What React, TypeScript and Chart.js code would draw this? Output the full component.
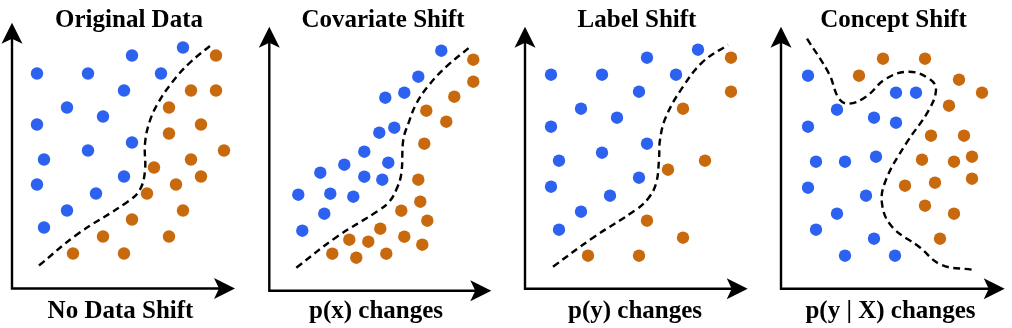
import React, { useEffect, useRef } from "react";
import { Chart, registerables } from "chart.js";

Chart.register(...registerables);

// ---------- text ----------
const PANEL_TITLES = ["Original Data", "Covariate Shift", "Label Shift", "Concept Shift"];
const PANEL_CAPTIONS = ["No Data Shift", "p(x) changes", "p(y) changes", "p(y | X) changes"];

// ---------- data (units: arbitrary feature space, origin at axes corner) ----------
// Panel 1: Original data
const BLUE1_X = [17.1, 12.0, 2.5, 7.6, 14.9, 11.2, 5.5, 9.1, 2.5, 12.0, 7.6, 3.2, 11.2, 2.5, 8.4, 5.5, 3.2];
const BLUE1_Y = [24.1, 23.3, 21.5, 21.5, 21.5, 19.8, 18.1, 17.2, 16.4, 14.6, 13.8, 12.9, 11.2, 10.4, 9.5, 7.8, 6.1];
const ORANGE1_X = [20.4, 17.9, 20.4, 15.7, 18.9, 15.7, 21.2, 17.9, 14.2, 18.9, 16.4, 13.5, 17.1, 12.0, 9.1, 15.7, 6.1, 11.2];
const ORANGE1_Y = [23.3, 19.8, 19.8, 18.1, 16.4, 15.5, 13.8, 12.9, 12.1, 11.2, 10.4, 9.5, 7.8, 6.9, 5.2, 5.2, 3.5, 3.5];
const CURVE1_X = [2.7, 6.5, 11.6, 12.8, 13.3, 13.3, 13.8, 14.7, 16.0, 17.7, 20.1];
const CURVE1_Y = [2.3, 5.4, 8.7, 9.9, 11.8, 14.5, 16.8, 18.7, 20.6, 22.5, 24.5];

// Panel 2: Covariate shift
const BLUE2_X = [17.2, 14.9, 13.5, 11.6, 12.5, 11.0, 9.5, 11.9, 7.5, 5.1, 9.5, 11.3, 2.9, 6.1, 8.4, 5.5, 3.3];
const BLUE2_Y = [24.0, 21.4, 19.8, 19.3, 16.3, 15.8, 13.9, 12.8, 12.6, 11.8, 11.4, 11.1, 9.6, 9.7, 9.4, 7.7, 6.0];
const ORANGE2_X = [20.4, 20.4, 18.5, 15.7, 17.7, 15.5, 14.9, 15.1, 13.2, 15.8, 11.1, 8.0, 9.9, 13.5, 15.3, 6.3, 8.7, 11.7];
const ORANGE2_Y = [23.1, 20.9, 19.4, 18.0, 16.9, 14.7, 11.1, 8.9, 8.0, 7.0, 6.2, 5.1, 4.9, 5.4, 4.6, 3.7, 3.3, 3.7];
const CURVE2_X = [2.7, 6.7, 10.9, 12.0, 12.7, 13.2, 13.4, 13.9, 14.7, 16.0, 17.7, 20.1];
const CURVE2_Y = [2.3, 5.35, 8.0, 8.9, 10.1, 11.7, 15.1, 16.7, 18.7, 20.6, 22.4, 24.4];

// Panel 3: Label shift
const BLUE3_X = [17.3, 12.2, 2.6, 7.7, 15.1, 11.4, 5.6, 9.2, 2.6, 12.2, 7.7, 3.4, 11.4, 2.6, 8.5, 5.6, 3.4];
const BLUE3_Y = [23.9, 23.1, 21.4, 21.4, 21.4, 19.7, 18.0, 17.1, 16.2, 14.5, 13.6, 12.8, 11.1, 10.2, 9.3, 7.7, 5.9];
const ORANGE3_X = [20.6, 20.6, 15.8, 18.0, 14.3, 12.2, 15.8, 6.3, 11.4];
const ORANGE3_Y = [23.1, 19.7, 18.0, 12.8, 11.9, 6.8, 5.1, 3.3, 3.3];
const CURVE3_X = [2.8, 6.8, 11.1, 12.3, 13.1, 13.4, 13.5, 14.1, 15.8, 17.8, 20.3];
const CURVE3_Y = [2.2, 5.1, 7.9, 9.0, 10.5, 12.9, 14.9, 17.2, 20.2, 22.7, 24.4];

// Panel 4: Concept shift
const BLUE4_X = [2.7, 11.5, 13.5, 5.6, 9.3, 11.5, 2.7, 3.5, 6.4, 9.5, 2.7, 8.5, 5.6, 3.5, 9.3, 6.4, 11.4];
const BLUE4_Y = [21.3, 19.6, 19.6, 17.9, 17.1, 16.6, 16.2, 12.7, 12.7, 13.2, 10.1, 9.3, 7.5, 5.9, 5.0, 3.3, 3.3];
const ORANGE4_X = [10.2, 14.4, 7.8, 17.8, 20.1, 16.8, 15.0, 18.3, 14.1, 17.3, 19.1, 12.4, 15.4, 19.1, 14.4, 17.3, 15.9];
const ORANGE4_Y = [23.0, 23.0, 21.3, 20.9, 19.6, 18.3, 15.3, 15.3, 12.9, 12.7, 13.2, 10.3, 10.6, 11.0, 8.3, 7.5, 5.0];
const CURVE4_X = [2.6, 4.8, 5.8, 6.8, 8.5, 10.5, 12.8, 14.8, 15.5, 14.8, 12.5, 10.5, 10.1, 11.1, 13.8, 16.0, 19.1];
const CURVE4_Y = [25.0, 21.5, 19.0, 18.5, 19.2, 21.0, 21.7, 21.0, 20.0, 17.9, 14.5, 10.9, 8.5, 6.2, 4.2, 2.4, 1.9];

const PANELS = [
  { bx: BLUE1_X, by: BLUE1_Y, ox: ORANGE1_X, oy: ORANGE1_Y, cx: CURVE1_X, cy: CURVE1_Y },
  { bx: BLUE2_X, by: BLUE2_Y, ox: ORANGE2_X, oy: ORANGE2_Y, cx: CURVE2_X, cy: CURVE2_Y },
  { bx: BLUE3_X, by: BLUE3_Y, ox: ORANGE3_X, oy: ORANGE3_Y, cx: CURVE3_X, cy: CURVE3_Y },
  { bx: BLUE4_X, by: BLUE4_Y, ox: ORANGE4_X, oy: ORANGE4_Y, cx: CURVE4_X, cy: CURVE4_Y },
];

// ---------- layout & style ----------
const CANVAS_W = 253;
const CANVAS_H = 328;
const UNIT_PX = 10; // pixels per data unit
const LAYOUT = [
  { left: 0, originX: 12, originY: 288.5, tipX: 235, tipY: 22.7, titleX: 129, captionX: 120.5 },
  { left: 253, originX: 269.3, originY: 290.7, tipX: 491.3, tipY: 26.7, titleX: 383, captionX: 376 },
  { left: 506, originX: 525, originY: 288.7, tipX: 747.7, tipY: 26.7, titleX: 637, captionX: 635 },
  { left: 759, originX: 781, originY: 288.7, tipX: 1004.7, tipY: 26.7, titleX: 893.5, captionX: 890.5 },
];
const TITLE_BASELINE = 27;
const CAPTION_BASELINE = 317.5;
const FONT = 'bold 25px "Liberation Serif", "Times New Roman", serif';
const BLUE = "#2D62F0";
const ORANGE = "#C9690D";

function pts(xs: number[], ys: number[]) {
  return xs.map((x, i) => ({ x, y: ys[i] }));
}

function head(ctx: CanvasRenderingContext2D, x: number, y: number, dir: "up" | "right") {
  const len = 21, half = 10.5, notch = 16;
  ctx.beginPath();
  if (dir === "up") {
    ctx.moveTo(x, y);
    ctx.lineTo(x + half, y + len);
    ctx.lineTo(x, y + notch);
    ctx.lineTo(x - half, y + len);
  } else {
    ctx.moveTo(x, y);
    ctx.lineTo(x - len, y - half);
    ctx.lineTo(x - notch, y);
    ctx.lineTo(x - len, y + half);
  }
  ctx.closePath();
  ctx.fill();
}

function Panel({ index }: { index: number }) {
  const ref = useRef<HTMLCanvasElement | null>(null);
  useEffect(() => {
    const L = LAYOUT[index];
    const P = PANELS[index];
    const decor = {
      id: "decor" + index,
      afterDraw(chart: any) {
        const ctx = chart.ctx as CanvasRenderingContext2D;
        const a = chart.chartArea;
        ctx.save();
        ctx.strokeStyle = "#000";
        ctx.fillStyle = "#000";
        ctx.lineWidth = 2.4;
        ctx.lineJoin = "miter";
        ctx.beginPath();
        ctx.moveTo(a.left, a.top + 12);
        ctx.lineTo(a.left, a.bottom);
        ctx.lineTo(a.right - 12, a.bottom);
        ctx.stroke();
        head(ctx, a.left, a.top, "up");
        head(ctx, a.right, a.bottom, "right");
        ctx.font = FONT;
        ctx.textAlign = "center";
        ctx.textBaseline = "alphabetic";
        ctx.fillText(PANEL_TITLES[index], L.titleX - L.left, TITLE_BASELINE);
        ctx.fillText(PANEL_CAPTIONS[index], L.captionX - L.left, CAPTION_BASELINE);
        ctx.restore();
      },
    };
    const chart = new Chart(ref.current as HTMLCanvasElement, {
      type: "scatter",
      data: {
        datasets: [
          {
            data: pts(P.bx, P.by),
            pointBackgroundColor: BLUE,
            backgroundColor: BLUE,
            pointBorderWidth: 0,
            pointRadius: 6.2,
            showLine: false,
            clip: false as any,
          },
          {
            data: pts(P.ox, P.oy),
            pointBackgroundColor: ORANGE,
            backgroundColor: ORANGE,
            pointBorderWidth: 0,
            pointRadius: 6.2,
            showLine: false,
            clip: false as any,
          },
          {
            data: pts(P.cx, P.cy),
            showLine: true,
            borderColor: "#000",
            borderWidth: 2.4,
            borderDash: [7, 4.5],
            pointRadius: 0,
            tension: 0.4,
            fill: false,
            clip: false as any,
          },
        ],
      },
      options: {
        animation: false,
        responsive: false,
        events: [],
        layout: {
          padding: {
            left: L.originX - L.left,
            top: L.tipY,
            right: CANVAS_W - (L.tipX - L.left),
            bottom: CANVAS_H - L.originY,
          },
        },
        plugins: { legend: { display: false }, title: { display: false }, tooltip: { enabled: false } },
        scales: {
          x: { type: "linear", display: false, min: 0, max: (L.tipX - L.originX) / UNIT_PX },
          y: { type: "linear", display: false, min: 0, max: (L.originY - L.tipY) / UNIT_PX },
        },
      },
      plugins: [decor],
    });
    return () => chart.destroy();
  }, [index]);
  const L = LAYOUT[index];
  return (
    <canvas
      ref={ref}
      width={CANVAS_W}
      height={CANVAS_H}
      style={{ position: "absolute", left: L.left, top: 0, width: CANVAS_W, height: CANVAS_H }}
    />
  );
}

export default function App() {
  return (
    <div style={{ position: "absolute", left: 0, top: 0, width: 1012, height: 328, background: "#fff", overflow: "hidden" }}>
      {LAYOUT.map((_, i) => (
        <Panel key={i} index={i} />
      ))}
    </div>
  );
}
